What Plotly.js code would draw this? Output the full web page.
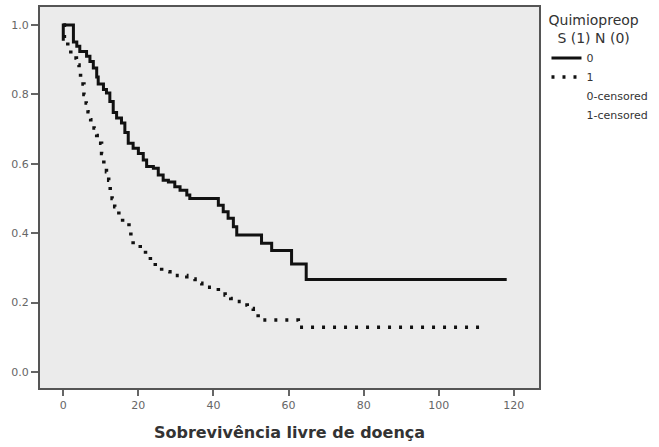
<!DOCTYPE html>
<html>
<head>
<meta charset="utf-8">
<script src="https://cdn.plot.ly/plotly-3.0.1.min.js"></script>
<style>html,body{margin:0;padding:0;background:#fff;}#chart{width:659px;height:447px;}</style>
</head>
<body>
<div id="chart"></div>
<script>
// Group 0 (Quimiopreop = N): step times (months) and survival after each step
var times0 = [0, 0, 2.7, 3.6, 4.4, 6.2, 7.1, 8.0, 8.9, 9.3, 10.7, 11.5, 12.4, 13.3, 14.2, 15.5, 16.4, 17.3, 18.6, 20.0, 21.3, 22.2, 24.0, 25.3, 26.6, 28.0, 29.7, 31.1, 32.9, 33.7, 41.3, 42.6, 43.9, 45.3, 46.2, 52.8, 55.5, 60.8, 64.7, 118.1];
var surv0  = [0.955, 1.0, 0.951, 0.939, 0.924, 0.910, 0.895, 0.876, 0.850, 0.830, 0.814, 0.804, 0.780, 0.748, 0.732, 0.718, 0.690, 0.659, 0.645, 0.630, 0.611, 0.592, 0.587, 0.568, 0.553, 0.548, 0.534, 0.524, 0.510, 0.500, 0.481, 0.462, 0.443, 0.419, 0.395, 0.371, 0.350, 0.311, 0.267, 0.267];
// Group 1 (Quimiopreop = S)
var times1 = [0, 0.3, 1.2, 2.0, 3.5, 4.2, 4.6, 5.5, 6.1, 6.6, 7.3, 8.2, 8.9, 9.5, 10.2, 10.8, 11.5, 12.1, 12.5, 13.0, 13.7, 14.8, 15.8, 17.5, 18.0, 18.6, 20.5, 21.9, 23.2, 24.5, 26.2, 28.4, 32.9, 35.1, 36.9, 41.3, 43.1, 44.6, 46.0, 47.5, 49.0, 50.6, 51.9, 62.6, 112.3];
var surv1  = [1.0, 0.955, 0.930, 0.905, 0.885, 0.860, 0.830, 0.800, 0.775, 0.750, 0.727, 0.703, 0.682, 0.659, 0.630, 0.601, 0.577, 0.553, 0.524, 0.500, 0.476, 0.452, 0.433, 0.414, 0.390, 0.366, 0.356, 0.337, 0.318, 0.303, 0.289, 0.278, 0.268, 0.256, 0.244, 0.231, 0.222, 0.212, 0.203, 0.193, 0.183, 0.171, 0.150, 0.129, 0.129];

var xTicks = [0, 20, 40, 60, 80, 100, 120];
var yTicks = [0.0, 0.2, 0.4, 0.6, 0.8, 1.0];
var yTickLabels = ["0.0", "0.2", "0.4", "0.6", "0.8", "1.0"];
var seriesNames = ["0", "1", "0-censored", "1-censored"];

var fontFam = "DejaVu Sans, Verdana, sans-serif";
var n0 = times0.length - 1, n1 = times1.length - 1;

var traces = [
  {x: times0, y: surv0, mode: "lines", name: seriesNames[0],
   line: {shape: "hv", color: "#111", width: 3}},
  {x: times1, y: surv1, mode: "lines", name: seriesNames[1],
   line: {shape: "hv", color: "#111", width: 3.5, dash: "3px,8px"}},
  // censored marks are hidden in the reference (invisible markers)
  {x: [times0[n0]], y: [surv0[n0]], mode: "markers", name: seriesNames[2],
   marker: {size: 1, color: "rgba(0,0,0,0)"}},
  {x: [times1[n1]], y: [surv1[n1]], mode: "markers", name: seriesNames[3],
   marker: {size: 1, color: "rgba(0,0,0,0)"}}
];

var layout = {
  width: 659, height: 447,
  margin: {l: 40, r: 120, t: 7, b: 59, autoexpand: false},
  paper_bgcolor: "#ffffff",
  plot_bgcolor: "#ebebeb",
  font: {family: fontFam, color: "#555", size: 11},
  showlegend: true,
  legend: {
    x: 1.015, xanchor: "left", y: 1.0, yanchor: "top",
    bgcolor: "rgba(0,0,0,0)",
    font: {family: fontFam, size: 11, color: "#333"},
    title: {text: "Quimiopreop<br>  S (1) N (0)", side: "top", font: {family: fontFam, size: 14, color: "#333"}},
    tracegroupgap: 0,
    itemwidth: 30
  },
  xaxis: {
    range: [-6.2, 126.7],
    tickvals: xTicks,
    ticktext: xTicks.map(String),
    ticks: "outside", ticklen: 6, tickwidth: 2, tickcolor: "#666",
    showgrid: false, zeroline: false,
    showline: true, linecolor: "#555", linewidth: 2, mirror: true,
    tickfont: {family: fontFam, size: 11, color: "#666"},
    title: {text: "<b>Sobrevivência livre de doença</b>", font: {family: fontFam, size: 16, color: "#333"}, standoff: 16}
  },
  yaxis: {
    range: [-0.046, 1.052],
    tickvals: yTicks,
    ticktext: yTickLabels,
    ticks: "outside", ticklen: 7, tickwidth: 2, tickcolor: "#666",
    showgrid: false, zeroline: false,
    showline: true, linecolor: "#555", linewidth: 2, mirror: true,
    tickfont: {family: fontFam, size: 11, color: "#666"}
  }
};

Plotly.newPlot("chart", traces, layout, {displayModeBar: false, staticPlot: true});
</script>
</body>
</html>
